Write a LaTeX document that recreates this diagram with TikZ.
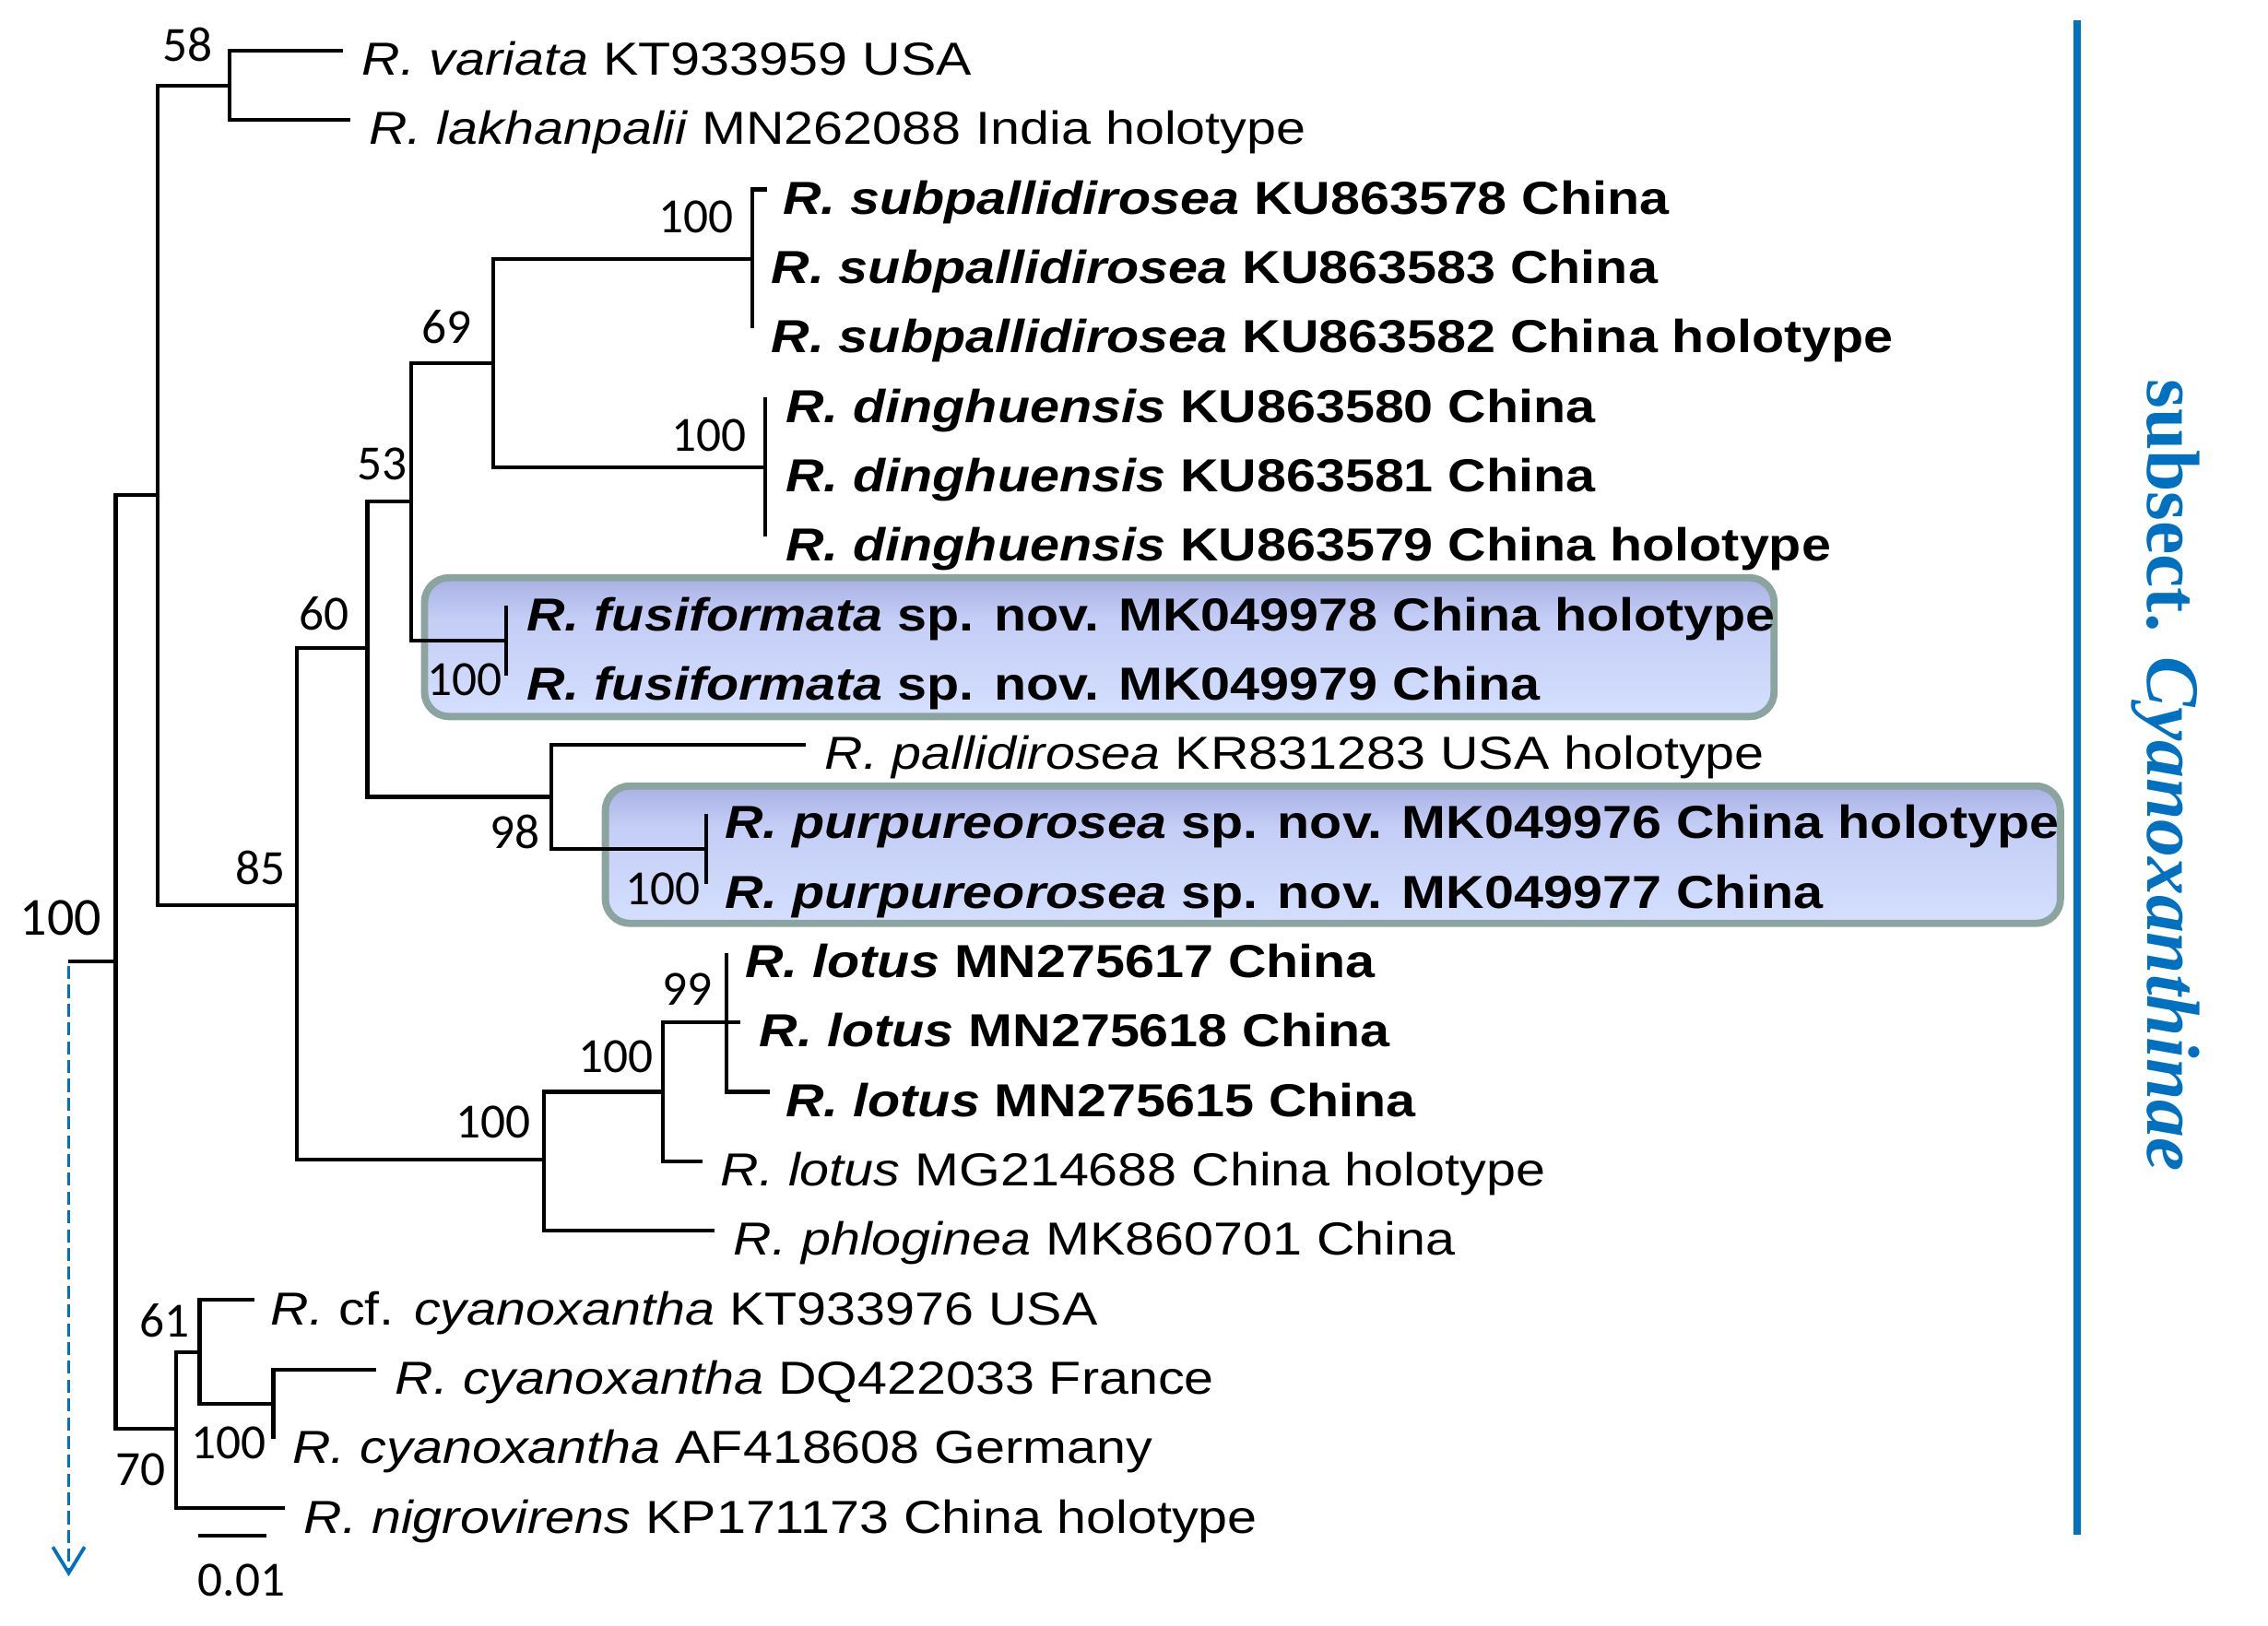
\documentclass[tikz,border=0pt]{standalone}
\usepackage{fontspec}
\setmainfont{Liberation Sans}
\newfontfamily\labfont[FakeStretch=1.145]{Liberation Sans}
\newfontfamily\numfont{Carlito}
\newfontfamily\seriffont{Liberation Serif}
\usetikzlibrary{arrows.meta}
\definecolor{clade}{RGB}{0,112,192}
\definecolor{boxedge}{RGB}{140,164,160}
\definecolor{boxtop}{RGB}{124,128,196}
\definecolor{boxmid}{RGB}{196,206,246}
\definecolor{boxlow}{RGB}{214,224,255}
\definecolor{boxbot}{RGB}{165,182,175}
\pgfdeclareverticalshading{boxshade}{100bp}{color(0bp)=(boxbot); color(8bp)=(boxbot); color(22bp)=(boxlow); color(60bp)=(boxmid); color(100bp)=(boxtop)}
\begin{document}
\begin{tikzpicture}[x=1pt,y=-1pt,
  branch/.style={line width=2.6pt, black},
  leafr/.style={anchor=base west, inner sep=0pt, font=\labfont\fontsize{32}{37}\selectfont},
  leafb/.style={anchor=base west, inner sep=0pt, font=\labfont\bfseries\fontsize{32}{37}\selectfont},
  boot/.style={inner sep=0pt, font=\numfont\fontsize{34}{40}\selectfont},
  cladebox/.style={draw=boxedge, line width=5pt, rounded corners=17pt, shading=boxshade, inner sep=0pt}]
\useasboundingbox (0,0) rectangle (1568,1124);
\fill[white] (0,0) rectangle (1568,1124);

% highlighted boxes
\node[cladebox, minimum width=933pt, minimum height=96pt] (boxfus) at (760,447.5) {};
\node[cladebox, minimum width=1006pt, minimum height=95pt] (boxpur) at (921.5,591) {};

% tree coordinates
\coordinate (root) at (80,665);
\coordinate (rootstub) at (47,665);
\coordinate (nA) at (109,342.5);
\coordinate (n58) at (159,59);
\coordinate (n85) at (205,626);
\coordinate (n60) at (254,448);
\coordinate (n53) at (284,347);
\coordinate (n69) at (341,251);
\coordinate (nsub) at (520,179);
\coordinate (ndin) at (529,323);
\coordinate (nfus) at (350,443);
\coordinate (n98) at (381,551);
\coordinate (npur) at (488,587);
\coordinate (n100c) at (376,802);
\coordinate (nlot) at (458,755);
\coordinate (n99) at (502,707);
\coordinate (n70) at (122,988);
\coordinate (n61) at (138,935);
\coordinate (ncy) at (189,971);
\coordinate (l1) at (237,35);
\coordinate (l2) at (242,83);
\coordinate (l3) at (530,131);
\coordinate (l5) at (520,227);
\coordinate (l6) at (529,275);
\coordinate (l8) at (529,371);
\coordinate (l9) at (350,419);
\coordinate (l10) at (350,467);
\coordinate (l11) at (557,515);
\coordinate (l12) at (488,563);
\coordinate (l13) at (488,611);
\coordinate (l14) at (502,659);
\coordinate (l15) at (512,707);
\coordinate (l16) at (532,755);
\coordinate (l17) at (486,803);
\coordinate (l18) at (494,851);
\coordinate (l19) at (176,899);
\coordinate (l20) at (260,947);
\coordinate (l21) at (189,995);
\coordinate (l22) at (197,1043);

% branches
\draw[branch] (root) -- (rootstub);
\draw[branch] (root) |- (nA);
\draw[branch] (root) |- (n70);
\draw[branch] (nA) |- (n58);
\draw[branch] (nA) |- (n85);
\draw[branch] (n58) |- (l1);
\draw[branch] (n58) |- (l2);
\draw[branch] (n85) |- (n60);
\draw[branch] (n85) |- (n100c);
\draw[branch] (n60) |- (n53);
\draw[branch] (n60) |- (n98);
\draw[branch] (n53) |- (n69);
\draw[branch] (n53) |- (nfus);
\draw[branch] (n69) |- (nsub);
\draw[branch] (n69) |- (ndin);
\draw[branch] (nsub) |- (l3);
\draw[branch] (nsub) |- (l5);
\draw[branch] (ndin) |- (l6);
\draw[branch] (ndin) |- (l8);
\draw[branch] (nfus) |- (l9);
\draw[branch] (nfus) |- (l10);
\draw[branch] (n98) |- (l11);
\draw[branch] (n98) |- (npur);
\draw[branch] (npur) |- (l12);
\draw[branch] (npur) |- (l13);
\draw[branch] (n100c) |- (nlot);
\draw[branch] (n100c) |- (l18);
\draw[branch] (nlot) |- (n99);
\draw[branch] (nlot) |- (l17);
\draw[branch] (n99) |- (l14);
\draw[branch] (n99) |- (l15);
\draw[branch] (n99) |- (l16);
\draw[branch] (n70) |- (n61);
\draw[branch] (n70) |- (l22);
\draw[branch] (n61) |- (l19);
\draw[branch] (n61) |- (ncy);
\draw[branch] (ncy) |- (l20);
\draw[branch] (ncy) |- (l21);

% leaf labels
\node[leafr] (t1) at (250,52) {\itshape R. variata\upshape{} KT933959 USA};
\node[leafr] (t2) at (255,100) {\itshape R. lakhanpalii\upshape{} MN262088 India holotype};
\node[leafb] (t3) at (541,148) {\itshape R. subpallidirosea\upshape{} KU863578 China};
\node[leafb] (t4) at (533,196) {\itshape R. subpallidirosea\upshape{} KU863583 China};
\node[leafb] (t5) at (533,244) {\itshape R. subpallidirosea\upshape{} KU863582 China holotype};
\node[leafb] (t6) at (543,292) {\itshape R. dinghuensis\upshape{} KU863580 China};
\node[leafb] (t7) at (543,340) {\itshape R. dinghuensis\upshape{} KU863581 China};
\node[leafb] (t8) at (543,388) {\itshape R. dinghuensis\upshape{} KU863579 China holotype};
\node[leafb] (t9) at (364,436) {\itshape R. fusiformata\upshape{} sp. nov. MK049978 China holotype};
\node[leafb] (t10) at (364,484) {\itshape R. fusiformata\upshape{} sp. nov. MK049979 China};
\node[leafr] (t11) at (570,532) {\itshape R. pallidirosea\upshape{} KR831283 USA holotype};
\node[leafb] (t12) at (501,580) {\itshape R. purpureorosea\upshape{} sp. nov. MK049976 China holotype};
\node[leafb] (t13) at (501,628) {\itshape R. purpureorosea\upshape{} sp. nov. MK049977 China};
\node[leafb] (t14) at (515,676) {\itshape R. lotus\upshape{} MN275617 China};
\node[leafb] (t15) at (525,724) {\itshape R. lotus\upshape{} MN275618 China};
\node[leafb] (t16) at (543,772) {\itshape R. lotus\upshape{} MN275615 China};
\node[leafr] (t17) at (498,820) {\itshape R. lotus\upshape{} MG214688 China holotype};
\node[leafr] (t18) at (507,868) {\itshape R. phloginea\upshape{} MK860701 China};
\node[leafr] (t19) at (187,916) {\itshape R.\upshape{} cf. \itshape cyanoxantha\upshape{} KT933976 USA};
\node[leafr] (t20) at (273,964) {\itshape R. cyanoxantha\upshape{} DQ422033 France};
\node[leafr] (t21) at (202,1012) {\itshape R. cyanoxantha\upshape{} AF418608 Germany};
\node[leafr] (t22) at (210,1060) {\itshape R. nigrovirens\upshape{} KP171173 China holotype};

% bootstrap values
\node[boot] (b58) at (130,31) {58};
\node[boot] (b69) at (309,226) {69};
\node[boot] (b53) at (264,321) {53};
\node[boot] (bsub) at (481,150) {100};
\node[boot] (bdin) at (490,301) {100};
\node[boot] (b60) at (224,424) {60};
\node[boot] (bfus) at (321,470) {100};
\node[boot] (b98) at (356,575) {98};
\node[boot] (bpur) at (458,615) {100};
\node[boot] (b85) at (180,600) {85};
\node[boot, font=\numfont\fontsize{37}{44}\selectfont] (broot) at (42,635) {100};
\node[boot] (b99) at (475,684) {99};
\node[boot] (blot) at (426,731) {100};
\node[boot] (b100c) at (341,776) {100};
\node[boot] (b61) at (114,913) {61};
\node[boot] (bcy) at (158,998) {100};
\node[boot] (b70) at (97,1016) {70};

% scale bar
\coordinate (sb1) at (137,1062);
\coordinate (sb2) at (184,1062);
\draw[branch] (sb1) -- (sb2);
\node[boot] (sbl) at (167,1093) {0.01};

% dashed arrow
\coordinate (arrtop) at (47.5,668);
\coordinate (arrend) at (47.5,1090);
\draw[clade, line width=2.4pt, dash pattern=on 9pt off 4pt, -{Straight Barb[length=18pt,width=22pt,line width=2.4pt]}] (arrtop) -- (arrend);

% clade bar
\coordinate (bartop) at (1436,14);
\coordinate (barbot) at (1436,1061);
\draw[clade, line width=5pt] (bartop) -- (barbot);
\node[rotate=-90, anchor=base west, inner sep=0pt, text=clade, font=\seriffont\bfseries\fontsize{52}{60}\selectfont] (subsect) at (1485,262) {subsect. \itshape Cyanoxanthinae};
\end{tikzpicture}
\end{document}
